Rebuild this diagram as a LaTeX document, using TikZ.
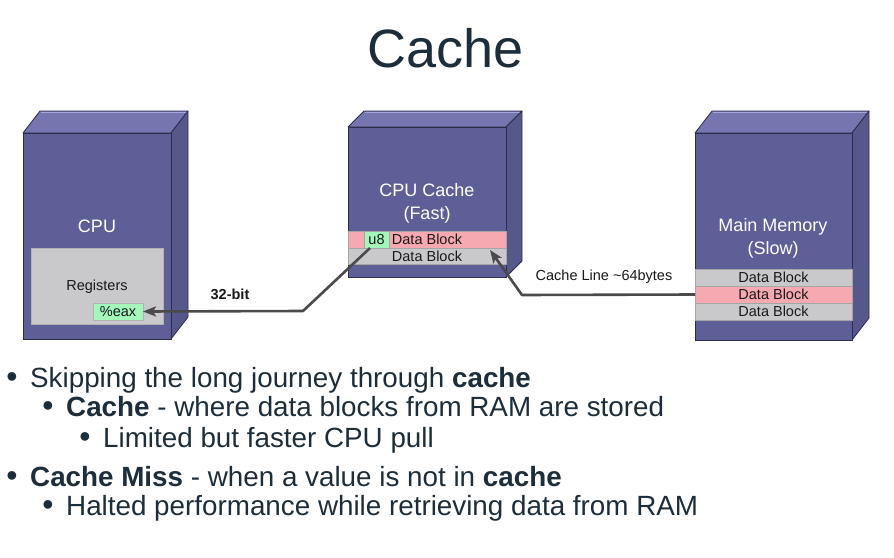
\documentclass[tikz,border=0pt]{standalone}
\usepackage{fontspec}
\setmainfont{Liberation Sans}
\usetikzlibrary{arrows.meta}

\definecolor{boxfront}{HTML}{5E5F97}
\definecolor{boxside}{HTML}{56578B}
\definecolor{boxtop}{HTML}{7576AF}
\definecolor{boxhi}{HTML}{A4A6DA}
\definecolor{boxedge}{HTML}{2D2D4D}
\definecolor{rowgray}{HTML}{C9C8CA}
\definecolor{rowred}{HTML}{F6A9B1}
\definecolor{regfill}{HTML}{A3F7BB}
\definecolor{inkdark}{HTML}{1D2E3A}
\definecolor{wire}{HTML}{4A4A4A}

\tikzset{
  title/.style={text=inkdark, font=\fontsize{54}{60}\selectfont, inner sep=0pt},
  boxlabel/.style={text=white, font=\fontsize{18}{21}\selectfont, align=center, inner sep=0pt},
  rowcell/.style={anchor=north west, inner sep=0pt, outer sep=0pt, draw=black!35, line width=0.5pt,
                  font=\fontsize{14.5}{16}\selectfont, text=black!90},
  smalltext/.style={font=\fontsize{14.5}{16}\selectfont, text=black!90, inner sep=0pt},
  conn/.style={draw=wire, line width=2.6pt, -{Stealth[length=13pt, width=10pt, inset=3pt]}},
  bulletmark/.style={text=inkdark, font=\fontsize{32}{36}\selectfont, anchor=base, inner sep=0pt},
  bullettext/.style={text=inkdark, font=\fontsize{27.8}{32}\selectfont, anchor=base west, inner sep=0pt}
}

\begin{document}
\begin{tikzpicture}[x=1pt, y=-1pt]
\useasboundingbox[fill=white] (0,0) rectangle (894,557);

% title
\node[title] (ttl) at (446,48) {Cache};

% three boxes: front face, top face and right side face
\foreach \xa/\ya/\xb/\yb/\dx/\dy in {23/133/171/339/17/22, 348/127/506/277/16/16, 695/133/852/340/17/22}{
  \fill[boxtop, draw=boxedge, line width=0.8pt, line join=round]
    (\xa,\ya) -- (\xa+\dx,\ya-\dy) -- (\xb+\dx,\ya-\dy) -- (\xb,\ya) -- cycle;
  \draw[boxhi, line width=1.6pt] (\xa+\dx+1,\ya-\dy+1.5) -- (\xb+\dx-1,\ya-\dy+1.5);
  \fill[boxside, draw=boxedge, line width=0.8pt, line join=round]
    (\xb,\ya) -- (\xb+\dx,\ya-\dy) -- (\xb+\dx,\yb-\dy) -- (\xb,\yb) -- cycle;
  \fill[boxfront, draw=boxedge, line width=0.8pt] (\xa,\ya) rectangle (\xb,\yb);
}

% CPU
\node[boxlabel] (cpulbl) at (97,226) {CPU};
\node[rowcell, fill=rowgray, draw=black!30, minimum width=132pt, minimum height=76pt] (regs) at (31,248) {};
\node[smalltext] (regslbl) at (97,287) {Registers};
\node[rowcell, fill=regfill, draw=black!30, minimum width=50pt, minimum height=17pt] (eax) at (93,303) {\%eax};

% CPU cache
\node[boxlabel] (cachelbl) at (427,203) {CPU Cache\\[2pt](Fast)};
\node[rowcell, fill=rowred, minimum width=158pt, minimum height=17pt] (c1) at (348,231) {};
\node[rowcell, fill=rowgray, minimum width=158pt, minimum height=16pt] (c2) at (348,248) {Data Block};
\node[rowcell, fill=regfill, minimum width=25pt, minimum height=17pt] (u8) at (364,231) {u8};
\node[smalltext] (c1lbl) at (c1.center) {Data Block};

% main memory
\node[boxlabel] (memlbl) at (773,238) {Main Memory\\[2pt](Slow)};
\node[rowcell, fill=rowgray, minimum width=157pt, minimum height=17pt] (m1) at (695,269) {Data Block};
\node[rowcell, fill=rowred, minimum width=157pt, minimum height=17pt] (m2) at (695,286) {Data Block};
\node[rowcell, fill=rowgray, minimum width=157pt, minimum height=17pt] (m3) at (695,303) {Data Block};

% transfers
\coordinate (bendA) at (303,311);
\draw[conn, line join=round] ([xshift=6pt]u8.south west) -- (bendA) -- (eax.east);
\node[smalltext, font=\fontsize{14.5}{16}\selectfont\bfseries] (bitlbl) at (230,294) {32-bit};

\coordinate (bendB) at (522,295);
\draw[conn, line join=round] (m2.west) -- (bendB) -- ([xshift=-16pt, yshift=-2pt]c2.north east);
\node[smalltext] (linelbl) at (604,277) {Cache Line \textasciitilde64bytes};

% bullet list
\node[bulletmark] (d1) at (12,387) {\textbullet};
\node[bullettext] (t1) at (30,387) {Skipping the long journey through \textbf{cache}};
\node[bulletmark] (d2) at (48,416) {\textbullet};
\node[bullettext] (t2) at (66,416) {\textbf{Cache} - where data blocks from RAM are stored};
\node[bulletmark] (d3) at (85,447) {\textbullet};
\node[bullettext] (t3) at (103,447) {Limited but faster CPU pull};
\node[bulletmark] (d4) at (12,486) {\textbullet};
\node[bullettext] (t4) at (30,486) {\textbf{Cache Miss} - when a value is not in \textbf{cache}};
\node[bulletmark] (d5) at (48,515) {\textbullet};
\node[bullettext] (t5) at (66,515) {Halted performance while retrieving data from RAM};
\end{tikzpicture}
\end{document}
